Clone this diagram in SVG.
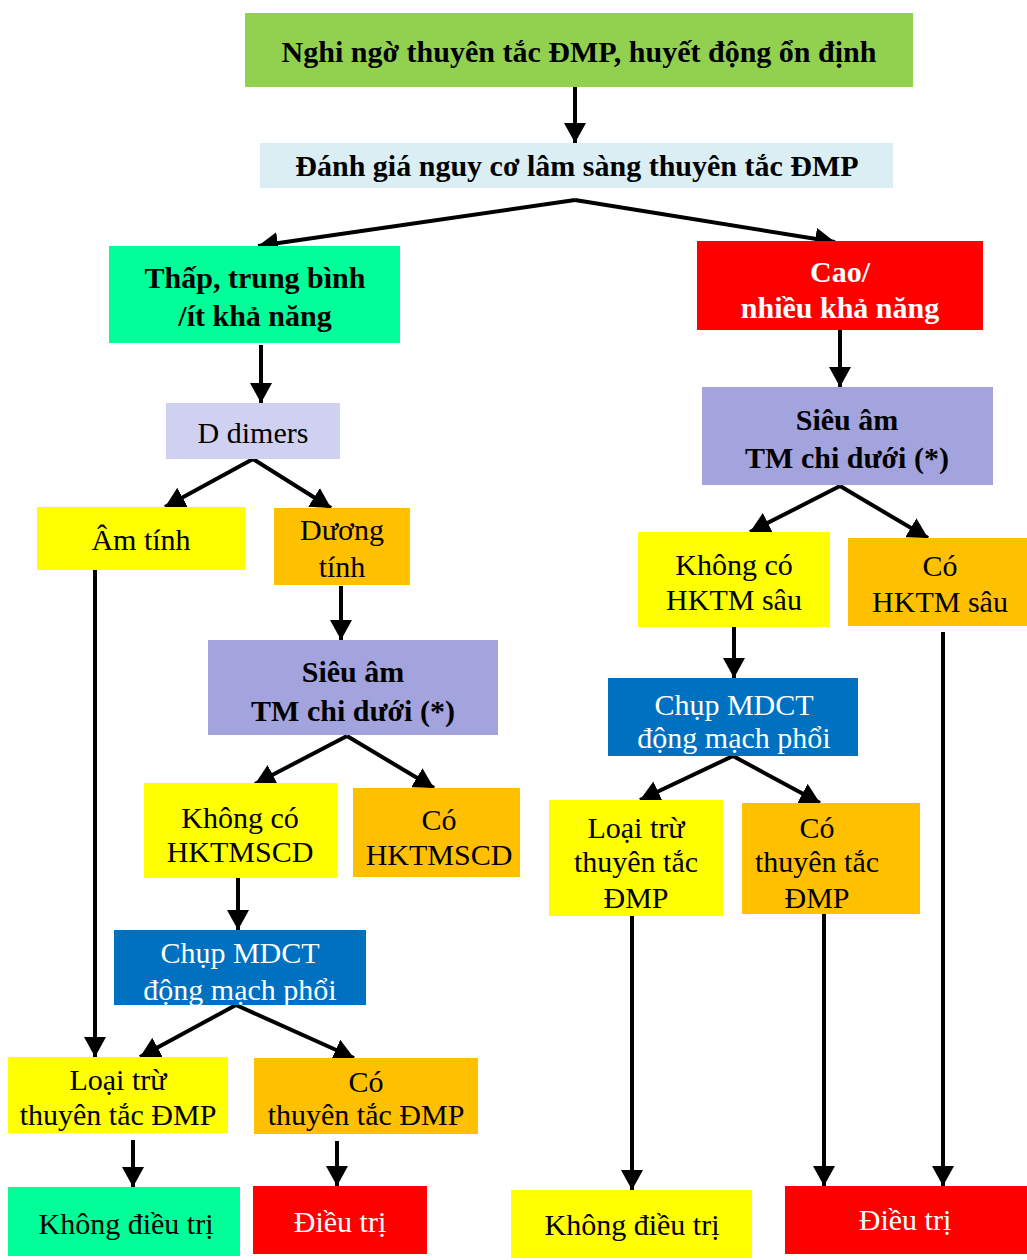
<svg xmlns="http://www.w3.org/2000/svg" width="1027" height="1260" viewBox="0 0 1027 1260">
<style>
text{font-family:"Liberation Serif","Times New Roman",serif;font-size:30px;text-anchor:middle;fill:#000}
.b{font-weight:bold}
.w{fill:#fff}
.c{stroke:#000;stroke-width:4;fill:none;marker-end:url(#ah)}
</style>
<defs>
<marker id="ah" markerUnits="userSpaceOnUse" viewBox="0 0 20 22" refX="20" refY="11" markerWidth="20" markerHeight="22" orient="auto">
<path d="M0,0 L20,11 L0,22 z" fill="#000"/>
</marker>
</defs>
<rect width="1027" height="1260" fill="#fff"/>
<g id="connectors">
<line class="c" x1="575" y1="87" x2="575" y2="143"/>
<line class="c" x1="575" y1="200" x2="258" y2="246"/>
<line class="c" x1="575" y1="200" x2="835" y2="242"/>
<line class="c" x1="261" y1="345" x2="261" y2="403"/>
<line class="c" x1="253" y1="459" x2="165" y2="507"/>
<line class="c" x1="253" y1="459" x2="331" y2="508"/>
<line class="c" x1="95" y1="570" x2="95" y2="1057"/>
<line class="c" x1="341" y1="586" x2="341" y2="640"/>
<line class="c" x1="347" y1="736" x2="255" y2="784"/>
<line class="c" x1="347" y1="736" x2="434" y2="788"/>
<line class="c" x1="238" y1="878" x2="238" y2="930"/>
<line class="c" x1="236" y1="1005" x2="140" y2="1057"/>
<line class="c" x1="236" y1="1005" x2="354" y2="1058"/>
<line class="c" x1="133" y1="1140" x2="133" y2="1187"/>
<line class="c" x1="337" y1="1141" x2="337" y2="1186"/>
<line class="c" x1="840" y1="330" x2="840" y2="387"/>
<line class="c" x1="840" y1="486" x2="750" y2="532"/>
<line class="c" x1="840" y1="486" x2="928" y2="538"/>
<line class="c" x1="734" y1="627" x2="734" y2="678"/>
<line class="c" x1="733" y1="756" x2="640" y2="800"/>
<line class="c" x1="733" y1="756" x2="820" y2="803"/>
<line class="c" x1="632" y1="916" x2="632" y2="1190"/>
<line class="c" x1="824" y1="914" x2="824" y2="1186"/>
<line class="c" x1="943" y1="632" x2="943" y2="1186"/>
</g>
<g id="n1"><rect x="245" y="13" width="668" height="74" fill="#92D050"/><text class="b" x="579" y="62">Nghi ngờ thuyên tắc ĐMP, huyết động ổn định</text></g>
<g id="n2"><rect x="260" y="143" width="633" height="45" fill="#DAEEF3"/><text class="b" x="577" y="176">Đánh giá nguy cơ lâm sàng thuyên tắc ĐMP</text></g>
<g id="n3"><rect x="109" y="246" width="291" height="97" fill="#00FF99"/><text class="b" x="255"><tspan x="255" y="288">Thấp, trung bình</tspan><tspan x="255" y="326">/ít khả năng</tspan></text></g>
<g id="n4"><rect x="697" y="241" width="286" height="89" fill="#FF0000"/><text class="b w" x="840"><tspan x="840" y="282">Cao/</tspan><tspan x="840" y="318">nhiều khả năng</tspan></text></g>
<g id="n5"><rect x="166" y="403" width="174" height="56" fill="#D0D0F0"/><text x="253" y="443">D dimers</text></g>
<g id="n6"><rect x="37" y="507" width="208" height="63" fill="#FFFF00"/><text x="141" y="550">Âm tính</text></g>
<g id="n7"><rect x="274" y="508" width="136" height="77" fill="#FFC000"/><text x="342"><tspan x="342" y="540">Dương</tspan><tspan x="342" y="577">tính</tspan></text></g>
<g id="n8"><rect x="208" y="640" width="290" height="95" fill="#A3A3DE"/><text class="b" x="353"><tspan x="353" y="682">Siêu âm</tspan><tspan x="353" y="721">TM chi dưới (*)</tspan></text></g>
<g id="n9"><rect x="144" y="783" width="193" height="95" fill="#FFFF00"/><text x="240"><tspan x="240" y="828">Không có</tspan><tspan x="240" y="862">HKTMSCD</tspan></text></g>
<g id="n10"><rect x="353" y="788" width="167" height="89" fill="#FFC000"/><text x="439"><tspan x="439" y="830">Có</tspan><tspan x="439" y="865">HKTMSCD</tspan></text></g>
<g id="n11"><rect x="114" y="930" width="252" height="75" fill="#0070C0"/><text class="w" x="240"><tspan x="240" y="963">Chụp MDCT</tspan><tspan x="240" y="1000">động mạch phổi</tspan></text></g>
<g id="n12"><rect x="8" y="1057" width="220" height="76" fill="#FFFF00"/><text x="118"><tspan x="118" y="1090">Loại trừ</tspan><tspan x="118" y="1125">thuyên tắc ĐMP</tspan></text></g>
<g id="n13"><rect x="254" y="1058" width="224" height="76" fill="#FFC000"/><text x="366"><tspan x="366" y="1092">Có</tspan><tspan x="366" y="1125">thuyên tắc ĐMP</tspan></text></g>
<g id="n14"><rect x="8" y="1187" width="232" height="69" fill="#00FF99"/><text x="126" y="1234">Không điều trị</text></g>
<g id="n15"><rect x="253" y="1186" width="174" height="68" fill="#FF0000"/><text class="w" x="340" y="1232">Điều trị</text></g>
<g id="n16"><rect x="702" y="387" width="291" height="98" fill="#A3A3DE"/><text class="b" x="847"><tspan x="847" y="430">Siêu âm</tspan><tspan x="847" y="468">TM chi dưới (*)</tspan></text></g>
<g id="n17"><rect x="638" y="532" width="192" height="95" fill="#FFFF00"/><text x="734"><tspan x="734" y="575">Không có</tspan><tspan x="734" y="610">HKTM sâu</tspan></text></g>
<g id="n18"><rect x="848" y="538" width="179" height="88" fill="#FFC000"/><text x="940"><tspan x="940" y="576">Có</tspan><tspan x="940" y="612">HKTM sâu</tspan></text></g>
<g id="n19"><rect x="608" y="678" width="250" height="78" fill="#0070C0"/><text class="w" x="734"><tspan x="734" y="715">Chụp MDCT</tspan><tspan x="734" y="748">động mạch phổi</tspan></text></g>
<g id="n20"><rect x="549" y="800" width="174" height="116" fill="#FFFF00"/><text x="636"><tspan x="636" y="838">Loại trừ</tspan><tspan x="636" y="872">thuyên tắc</tspan><tspan x="636" y="908">ĐMP</tspan></text></g>
<g id="n21"><rect x="742" y="803" width="178" height="111" fill="#FFC000"/><text x="817"><tspan x="817" y="838">Có</tspan><tspan x="817" y="872">thuyên tắc</tspan><tspan x="817" y="908">ĐMP</tspan></text></g>
<g id="n22"><rect x="511" y="1190" width="241" height="68" fill="#FFFF00"/><text x="632" y="1235">Không điều trị</text></g>
<g id="n23"><rect x="785" y="1186" width="242" height="68" fill="#FF0000"/><text class="w" x="905" y="1230">Điều trị</text></g>
</svg>
